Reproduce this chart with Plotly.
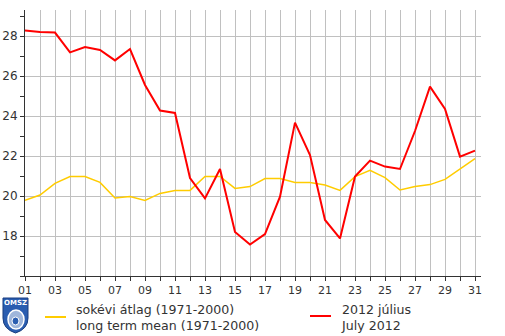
import plotly.graph_objects as go

days = list(range(1, 32))
tick_labels = [f"{d:02d}" if d % 2 == 1 else "" for d in days]

july_2012 = [28.27, 28.2, 28.17, 27.18, 27.45, 27.3, 26.78, 27.35, 25.55, 24.27,
             24.15, 20.9, 19.88, 21.35, 18.2, 17.57, 18.1, 19.97, 23.67, 22.05,
             18.8, 17.88, 20.97, 21.77, 21.47, 21.35, 23.25, 25.47, 24.35, 21.97, 22.27]
long_term_mean = [19.78, 20.05, 20.63, 20.97, 20.97, 20.68, 19.9, 19.97, 19.78, 20.13,
                  20.28, 20.28, 20.98, 20.98, 20.38, 20.47, 20.87, 20.87, 20.68, 20.68,
                  20.55, 20.28, 20.97, 21.28, 20.92, 20.3, 20.47, 20.57, 20.83, 21.33, 21.87]

legend_mean = "sokévi átlag (1971-2000)<br>long term mean (1971-2000)"
legend_july = "2012 július<br>July 2012"

font = "DejaVu Sans, Verdana, sans-serif"

L, R, T, B = 25, 481, 10, 276
PW, PH = R - L, B - T


def px(x):
    return (x - L) / PW


def py(y):
    return (B - y) / PH


fig = go.Figure()
fig.add_trace(go.Scatter(x=days, y=long_term_mean, mode="lines",
                         line=dict(color="#ffcc00", width=1.5), showlegend=False))
fig.add_trace(go.Scatter(x=days, y=july_2012, mode="lines",
                         line=dict(color="#ff0000", width=2), showlegend=False))

fig.update_layout(
    template="none",
    width=505, height=336,
    margin=dict(l=L, r=505 - R, t=T, b=336 - B, pad=0),
    paper_bgcolor="white", plot_bgcolor="white",
    font=dict(family=font, size=11, color="#333333"),
    xaxis=dict(range=[1, 31.4], tickvals=days, ticktext=tick_labels,
               showgrid=True, gridcolor="#c0c0c0", gridwidth=1,
               ticks="outside", ticklen=4, tickcolor="#333333",
               showline=True, linecolor="#333333", linewidth=1,
               zeroline=False, automargin=False,
               tickfont=dict(size=11, color="#333333")),
    yaxis=dict(range=[16, 29.3], tickvals=[18, 20, 22, 24, 26, 28],
               showgrid=True, gridcolor="#c0c0c0", gridwidth=1,
               ticks="outside", ticklen=4, tickcolor="#333333",
               showline=True, linecolor="#333333", linewidth=1,
               zeroline=False, automargin=False,
               tickfont=dict(size=12, color="#333333"),
               minor=dict(dtick=1, tick0=17, ticks="outside", ticklen=4,
                          tickcolor="#333333", showgrid=False)),
)

# legend (custom)
fig.add_shape(type="line", xref="paper", yref="paper",
              x0=px(45), x1=px(66), y0=py(317), y1=py(317),
              line=dict(color="#ffcc00", width=2))
fig.add_annotation(xref="paper", yref="paper", x=px(74), y=py(317),
                   text=legend_mean, showarrow=False, xanchor="left", yanchor="middle",
                   align="left", font=dict(family=font, size=12.6, color="#333333"))
fig.add_shape(type="line", xref="paper", yref="paper",
              x0=px(310), x1=px(331), y0=py(316), y1=py(316),
              line=dict(color="#ff0000", width=2))
fig.add_annotation(xref="paper", yref="paper", x=px(339), y=py(317),
                   text=legend_july, showarrow=False, xanchor="left", yanchor="middle",
                   align="left", font=dict(family=font, size=12.6, color="#333333"))

# OMSZ logo (approximate shield)
fig.add_shape(type="path", xref="paper", yref="paper",
              path="M %f %f L %f %f L %f %f Q %f %f %f %f Q %f %f %f %f Z" % (
                  px(3), py(298), px(28), py(298), px(28), py(318),
                  px(28), py(329), px(15.5), py(333),
                  px(3), py(329), px(3), py(318)),
              fillcolor="#2a5db0", line=dict(color="#1a3f80", width=1))
fig.add_shape(type="circle", xref="paper", yref="paper",
              x0=px(8), x1=px(24), y0=py(329), y1=py(310),
              fillcolor="rgba(255,255,255,0.55)", line=dict(color="white", width=1.5))
fig.add_shape(type="circle", xref="paper", yref="paper",
              x0=px(12), x1=px(19), y0=py(325), y1=py(317),
              fillcolor="#2a5db0", line=dict(color="white", width=1))
fig.add_annotation(xref="paper", yref="paper", x=px(15.5), y=py(303),
                   text="<b>OMSZ</b>", showarrow=False, xanchor="center", yanchor="middle",
                   font=dict(family=font, size=7, color="white"))

fig.write_html("out.html", config={"displayModeBar": False},
               post_script="document.body.style.margin='0';document.body.style.padding='0';")
